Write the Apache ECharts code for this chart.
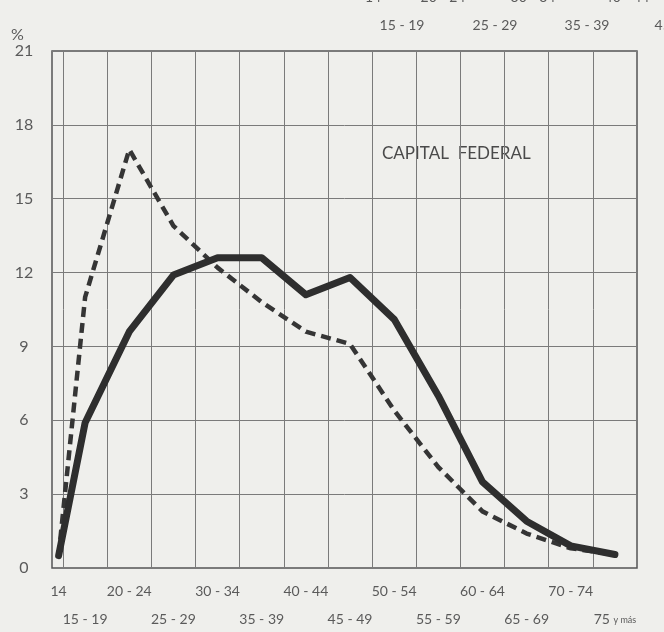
<!DOCTYPE html>
<html>
<head>
<meta charset="utf-8">
<script src="https://cdn.jsdelivr.net/npm/echarts@6/dist/echarts.min.js"></script>
<style>
html,body{margin:0;padding:0;background:#efefec;}
#chart{width:664px;height:632px;}
</style>
</head>
<body>
<div id="chart"></div>
<script>
// Age groups (category labels) and their centers in years on the x scale
const ageLabels = ['14','15 - 19','20 - 24','25 - 29','30 - 34','35 - 39','40 - 44','45 - 49','50 - 54','55 - 59','60 - 64','65 - 69','70 - 74','75 y más'];
const ageCenters = [14.5, 17.5, 22.5, 27.5, 32.5, 37.5, 42.5, 47.5, 52.5, 57.5, 62.5, 67.5, 72.5, 77.5];
// Percentages (solid and dashed curves)
const solidValues  = [0.5, 5.9, 9.6, 11.9, 12.6, 12.6, 11.1, 11.8, 10.1, 7.0, 3.5, 1.9, 0.9, 0.55];
const dashedValues = [0.5, 11.0, 17.0, 13.9, 12.2, 10.8, 9.6, 9.1, 6.4, 4.1, 2.3, 1.4, 0.8, 0.55];
// Grid boundaries between age groups (vertical lines)
const groupBounds = [15, 20, 25, 30, 35, 40, 45, 50, 55, 60, 65, 70, 75, 80];
// Y ticks
const yTicks = {min: 0, max: 21, interval: 3};
// Fragment of the previous chart's axis visible at the top of the scan
const topRowLabels = ['15 - 19', '25 - 29', '35 - 39', '45 - 49'];
const cutRowLabels = ['14', '20 - 24', '30 - 34', '40 - 44'];

const FONT = 'Lato, "DejaVu Sans", sans-serif';
const TXT = '#5a5a5a';

const chart = echarts.init(document.getElementById('chart'), null, {renderer: 'canvas'});

function pair(vals) { return ageCenters.map((x, i) => [x, vals[i]]); }

const graphics = [
  {type: 'text', left: 11, top: 27, style: {text: '%', font: '16px ' + FONT, fill: TXT}},
  {type: 'text', left: 382, top: 145, style: {text: 'CAPITAL  FEDERAL', font: '17px ' + FONT, fill: '#4a4a4a'}}
];
const topX = [402, 495, 587, 677];
topRowLabels.forEach((t, i) => graphics.push({type: 'text', x: topX[i], y: 25, style: {text: t, font: '14px ' + FONT, fill: TXT, align: 'center', verticalAlign: 'middle'}}));
const cutX = [373, 443, 533, 627];
cutRowLabels.forEach((t, i) => graphics.push({type: 'text', x: cutX[i], y: -3, style: {text: t, font: '14px ' + FONT, fill: TXT, align: 'center', verticalAlign: 'middle'}}));

const option = {
  backgroundColor: '#efefec',
  animation: false,
  grid: [
    {left: 52, right: 27, top: 51, bottom: 64, show: true, borderColor: '#555', borderWidth: 1.5, backgroundColor: 'transparent'},
    {left: 63, right: 27, top: 51, bottom: 64}
  ],
  xAxis: [
    {
      type: 'value', gridIndex: 0, min: 13.75, max: 80,
      axisLine: {show: false}, axisTick: {show: false}, splitLine: {show: false},
      axisLabel: {
        customValues: ageCenters,
        margin: 16,
        color: TXT, fontFamily: FONT, fontSize: 14,
        formatter: function (v) {
          const i = ageCenters.indexOf(v);
          if (i < 0) return '';
          const lab = ageLabels[i];
          if (i % 2 === 0) return '{r1|' + lab + '}';
          if (lab === '75 y más') return '{r2|75 }{s2|y más}';
          return '{r2|' + lab + '}';
        },
        rich: {
          r1: {fontSize: 14, color: TXT, fontFamily: FONT},
          r2: {fontSize: 14, color: TXT, fontFamily: FONT, padding: [28, 0, 0, 0]},
          s2: {fontSize: 9, color: TXT, fontFamily: FONT, padding: [31, 0, 0, 0]}
        }
      }
    },
    {
      type: 'value', gridIndex: 1, min: groupBounds[0], max: groupBounds[groupBounds.length - 1], interval: 5,
      axisLine: {show: false}, axisTick: {show: false}, axisLabel: {show: false},
      splitLine: {show: true, lineStyle: {color: '#7a7a7a', width: 1}}
    }
  ],
  yAxis: [
    {
      type: 'value', gridIndex: 0, min: yTicks.min, max: yTicks.max, interval: yTicks.interval,
      axisLine: {show: false}, axisTick: {show: false},
      axisLabel: {margin: 28, align: 'center', color: TXT, fontFamily: FONT, fontSize: 16},
      splitLine: {show: true, lineStyle: {color: '#7a7a7a', width: 1}}
    },
    {
      type: 'value', gridIndex: 1, min: yTicks.min, max: yTicks.max, show: false
    }
  ],
  series: [
    {
      type: 'line', xAxisIndex: 0, yAxisIndex: 0, data: pair(dashedValues),
      symbol: 'none', smooth: false,
      lineStyle: {color: '#353535', width: 4.5, type: [10, 6], cap: 'butt', join: 'round'}
    },
    {
      type: 'line', xAxisIndex: 0, yAxisIndex: 0, data: pair(solidValues),
      symbol: 'none', smooth: false,
      lineStyle: {color: '#2e2e2e', width: 7, cap: 'round', join: 'round'}
    }
  ],
  graphic: graphics
};
chart.setOption(option);
</script>
</body>
</html>
